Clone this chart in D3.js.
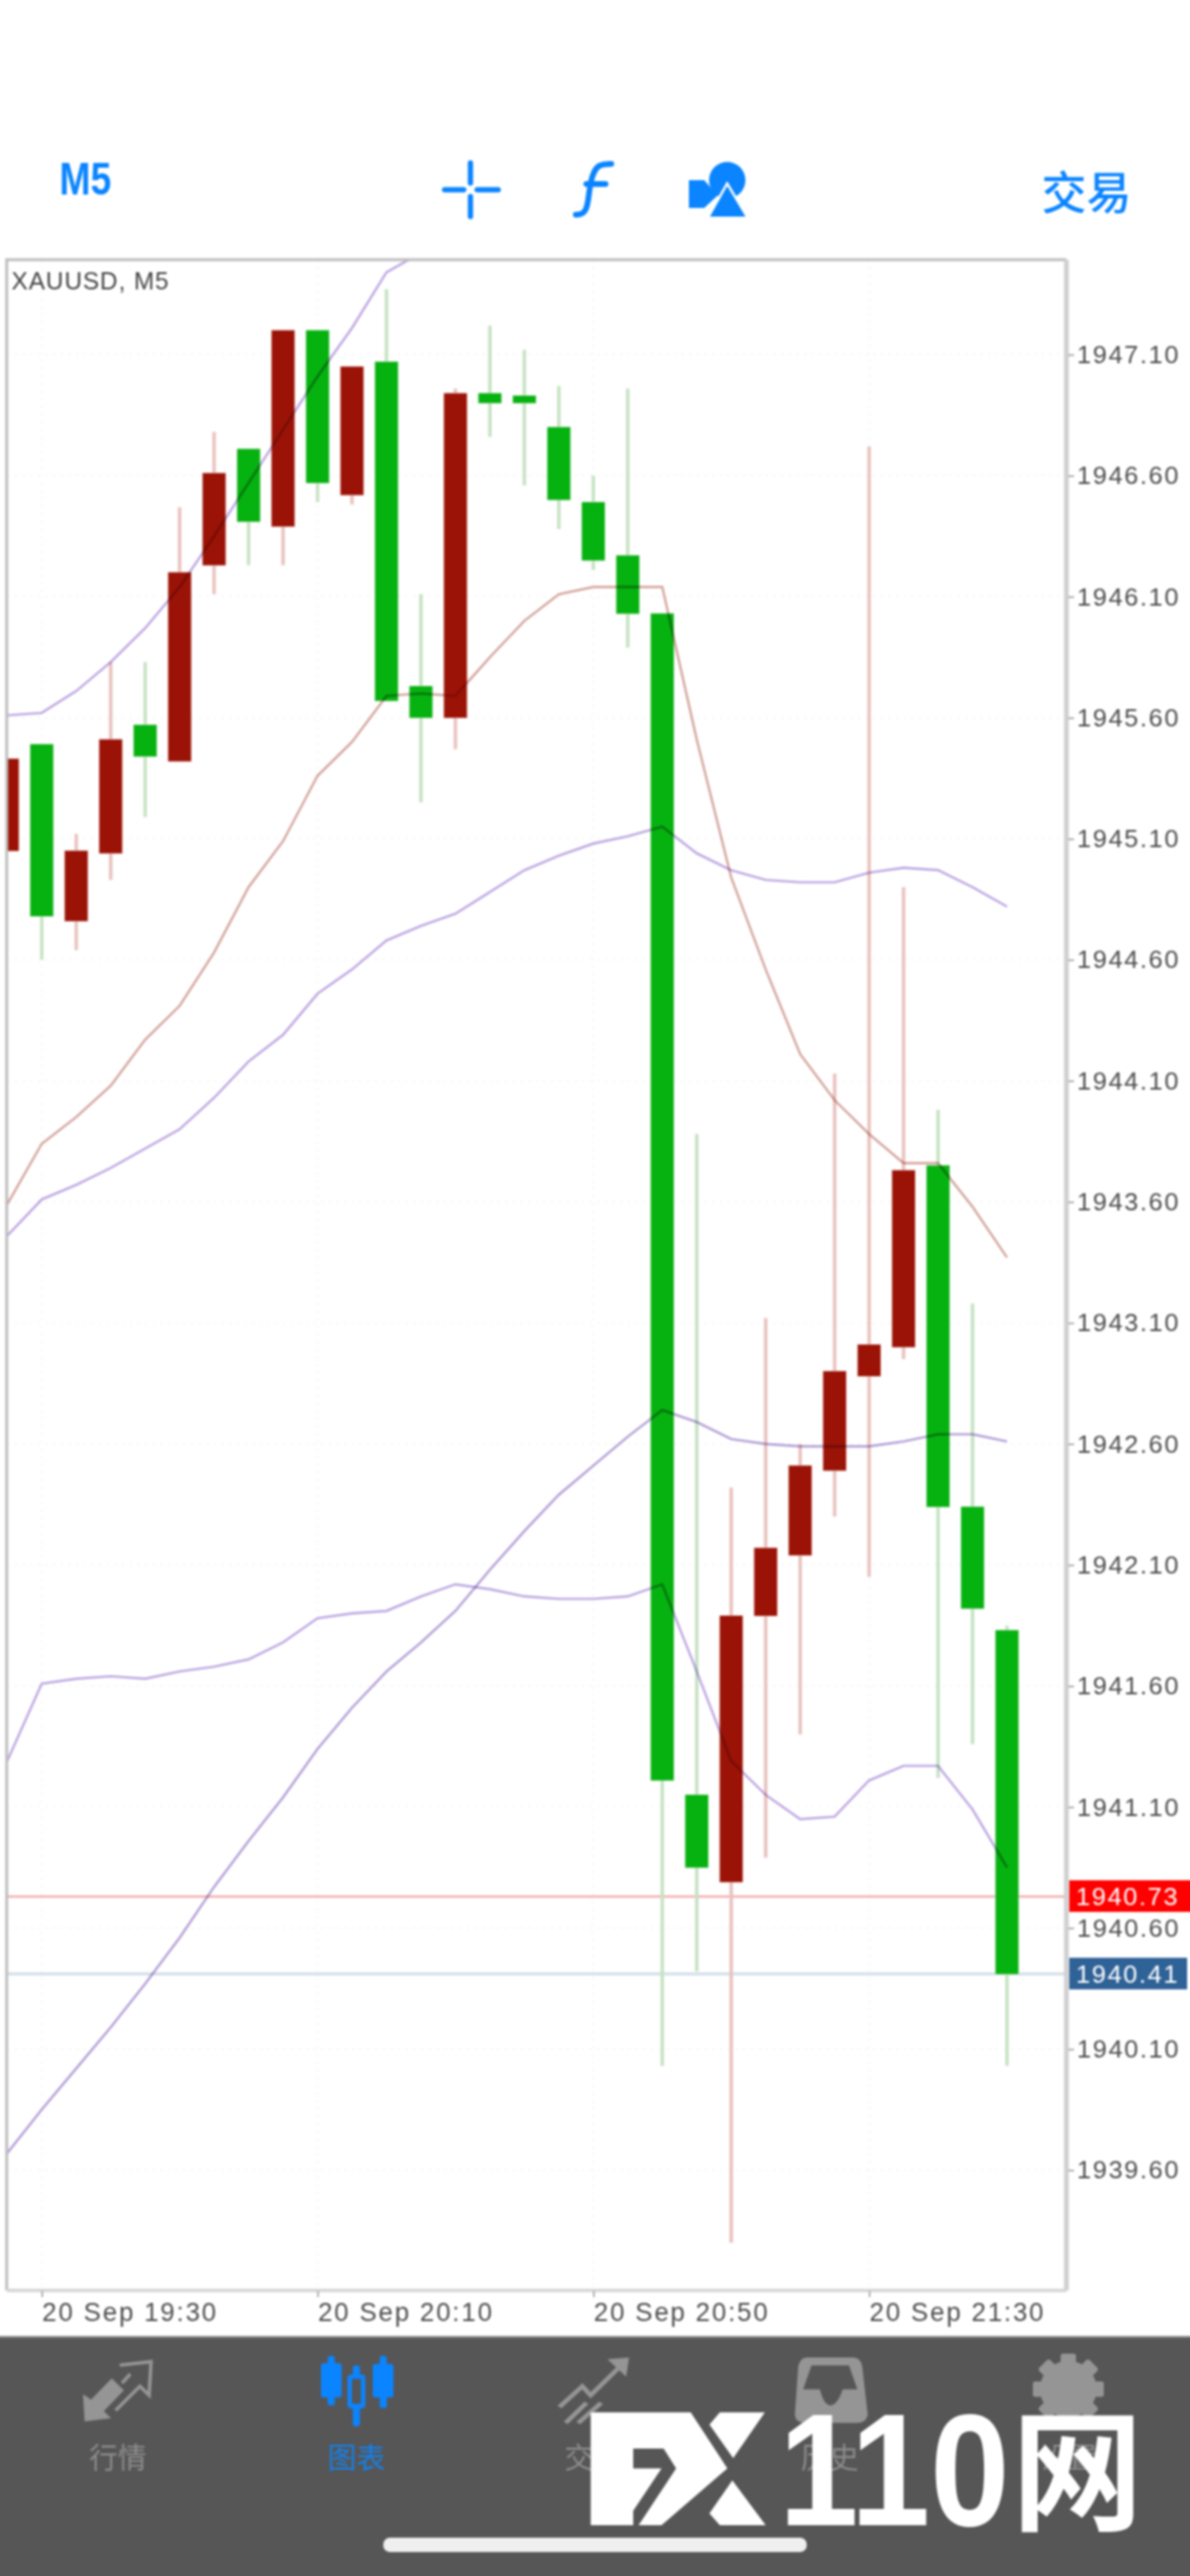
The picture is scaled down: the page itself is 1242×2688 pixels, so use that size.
<!DOCTYPE html>
<html>
<head>
<meta charset="utf-8">
<title>XAUUSD, M5</title>
<script src="https://cdn.jsdelivr.net/npm/d3@7/dist/d3.min.js"></script>
<style>
  html, body { margin: 0; padding: 0; background: #fff; overflow: hidden; }
  svg { display: block; }
  text { font-family: "Liberation Sans", Arial, sans-serif; }
  .cjk { font-family: "Noto Sans CJK SC", sans-serif; }
</style>
</head>
<body>
<div id="wrapper"></div>
<script>
// 5 minute bars, 20 Sep
const times = ["19:25","19:30","19:35","19:40","19:45","19:50","19:55","20:00","20:05","20:10",
  "20:15","20:20","20:25","20:30","20:35","20:40","20:45","20:50","20:55","21:00",
  "21:05","21:10","21:15","21:20","21:25","21:30","21:35","21:40","21:45","21:50"]
const opens = [1945.05,1945.49,1944.76,1945.04,1945.57,1945.42,1946.23,1946.71,1946.39,1947.20,
  1946.52,1947.07,1945.73,1945.60,1946.94,1946.93,1946.80,1946.49,1946.27,1946.03,
  1941.15,1940.79,1941.89,1942.14,1942.49,1942.88,1943.00,1943.75,1942.34,1941.83]
const closes = [1945.43,1944.78,1945.05,1945.51,1945.44,1946.20,1946.61,1946.41,1947.20,1946.57,
  1947.05,1945.67,1945.60,1946.94,1946.90,1946.90,1946.50,1946.25,1946.03,1941.21,
  1940.85,1941.89,1942.17,1942.51,1942.90,1943.01,1943.73,1942.34,1941.92,1940.41]
const highs = [1945.43,1945.49,1945.12,1945.83,1945.83,1946.47,1946.78,1946.71,1947.20,1947.20,
  1947.05,1947.37,1946.11,1946.96,1947.22,1947.12,1946.97,1946.60,1946.96,1946.03,
  1943.88,1942.42,1943.12,1942.60,1944.13,1946.72,1944.90,1943.98,1943.18,1941.85]
const lows = [1945.05,1944.60,1944.64,1944.93,1945.19,1945.42,1946.11,1946.23,1946.23,1946.49,
  1946.48,1945.67,1945.25,1945.47,1946.76,1946.56,1946.38,1946.21,1945.89,1940.03,
  1940.42,1939.30,1940.89,1941.40,1942.30,1942.05,1942.95,1941.22,1941.36,1940.03]

// indicator lines
const upperOuter = [1945.61,1945.62,1945.71,1945.83,1945.97,1946.14,1946.35,1946.57,1946.79,1947.01,
  1947.21,1947.44,1947.52]
const brownLine = [1943.59,1943.84,1943.95,1944.08,1944.27,1944.41,1944.63,1944.90,1945.09,1945.36,
  1945.50,1945.69,1945.70,1945.69,1945.85,1946.00,1946.11,1946.14,1946.14,1946.14,
  1945.51,1944.94,1944.56,1944.21,1944.02,1943.88,1943.76,1943.76,1943.58,1943.37]
const upperInner = [1943.46,1943.61,1943.67,1943.74,1943.82,1943.90,1944.03,1944.18,1944.29,1944.46,
  1944.56,1944.68,1944.74,1944.79,1944.88,1944.97,1945.03,1945.08,1945.11,1945.15,
  1945.04,1944.97,1944.93,1944.92,1944.92,1944.96,1944.98,1944.97,1944.90,1944.82]
const lowerOuter = [1941.29,1941.61,1941.63,1941.64,1941.63,1941.66,1941.68,1941.71,1941.78,1941.88,
  1941.90,1941.91,1941.97,1942.02,1942.00,1941.97,1941.96,1941.96,1941.97,1942.02,
  1941.66,1941.29,1941.15,1941.05,1941.06,1941.21,1941.27,1941.27,1941.09,1940.85]
const lowerInner = [1939.67,1939.85,1940.02,1940.19,1940.37,1940.56,1940.77,1940.96,1941.14,1941.34,
  1941.51,1941.66,1941.78,1941.91,1942.08,1942.24,1942.39,1942.51,1942.63,1942.74,
  1942.69,1942.62,1942.60,1942.59,1942.59,1942.59,1942.61,1942.64,1942.64,1942.61]

const priceTicks = [1947.10,1946.60,1946.10,1945.60,1945.10,1944.60,1944.10,1943.60,1943.10,1942.60,
  1942.10,1941.60,1941.10,1940.60,1940.10,1939.60]
const timeTicks = ["19:30","20:10","20:50","21:30"]
const bidPrice = 1940.41
const askPrice = 1940.73
const tabLabels = ["行情","图表","交易","历史","设置"]

const dimensions = {width: 1242, height: 2688, left: 7, right: 1113, top: 271, bottom: 2390}
const blue = "#0a84ff"
const grey = "#959595"

// the blur sits on a group so the tab bar can run past the page edge
const wrapper = d3.select("#wrapper")
  .append("svg")
    .attr("width", dimensions.width)
    .attr("height", dimensions.height)
  .append("g")
    .style("filter", "blur(1px)")

const x = d3.scalePoint()
  .domain(times)
  .range([7.6, 1051])

const y = d3.scaleLinear()
  .domain([1939.103, 1947.492])
  .range([dimensions.bottom, dimensions.top])

wrapper.append("clipPath")
  .attr("id", "plotClip")
  .append("rect")
    .attr("x", dimensions.left)
    .attr("y", dimensions.top)
    .attr("width", dimensions.right - dimensions.left)
    .attr("height", dimensions.bottom - dimensions.top)

const bounds = wrapper.append("g")
  .attr("id", "bounds")
  .attr("clip-path", "url(#plotClip)")

// very faint grid
bounds.selectAll(".gridY")
  .data(priceTicks)
  .join("line")
    .attr("x1", dimensions.left)
    .attr("x2", dimensions.right)
    .attr("y1", d => y(d))
    .attr("y2", d => y(d))
    .attr("stroke", "#f6f6f6")
    .attr("stroke-width", 1.5)
    .attr("stroke-dasharray", "3 5")

bounds.selectAll(".gridX")
  .data(timeTicks)
  .join("line")
    .attr("x1", d => x(d))
    .attr("x2", d => x(d))
    .attr("y1", dimensions.top)
    .attr("y2", dimensions.bottom)
    .attr("stroke", "#f6f6f6")
    .attr("stroke-width", 1.5)
    .attr("stroke-dasharray", "3 5")

// price lines
bounds.append("line")
  .attr("x1", dimensions.left).attr("x2", dimensions.right)
  .attr("y1", y(askPrice)).attr("y2", y(askPrice))
  .attr("stroke", "#f4b0ae").attr("stroke-width", 2.4)

bounds.append("line")
  .attr("x1", dimensions.left).attr("x2", dimensions.right)
  .attr("y1", y(bidPrice)).attr("y2", y(bidPrice))
  .attr("stroke", "#d3dde9").attr("stroke-width", 3)

// candles
const bars = bounds.selectAll(".bar")
  .data(times)
  .join("g")
    .attr("class", "bar")

const isDown = i => closes[i] < opens[i]
const bodyWidth = x.step() * 0.66

bars.append("line")
  .attr("x1", d => x(d))
  .attr("x2", d => x(d))
  .attr("y1", (d, i) => y(highs[i]))
  .attr("y2", (d, i) => y(lows[i]))
  .attr("stroke", (d, i) => isDown(i) ? "#c6e2c3" : "#e8c2be")
  .attr("stroke-width", 3.6)

bars.append("rect")
  .attr("x", d => x(d) - bodyWidth / 2)
  .attr("width", bodyWidth)
  .attr("y", (d, i) => y(Math.max(opens[i], closes[i])))
  .attr("height", (d, i) => Math.abs(y(opens[i]) - y(closes[i])))
  .attr("fill", (d, i) => isDown(i) ? "#05b20f" : "#9b1206")
  .attr("stroke", (d, i) => isDown(i) ? "#c6e2c3" : "#e8c2be")
  .attr("stroke-width", 1.2)
  .attr("paint-order", "stroke")

// indicators
const line = d3.line()
  .x((d, i) => x(times[i]))
  .y(d => y(d))

const indicators = [
  [upperOuter, "#bda6e2"],
  [brownLine, "#d3a49c"],
  [upperInner, "#bda6e2"],
  [lowerOuter, "#bda6e2"],
  [lowerInner, "#b39fd6"]
]

bounds.selectAll(".indicator")
  .data(indicators)
  .join("path")
    .attr("class", "indicator")
    .attr("d", d => line(d[0]))
    .attr("fill", "none")
    .attr("stroke", d => d[1])
    .attr("stroke-width", 2.4)
    .style("mix-blend-mode", "multiply")

// frame
wrapper.append("path")
  .attr("d", `M${dimensions.left},${dimensions.bottom}V${dimensions.top}H${dimensions.right}`)
  .attr("fill", "none")
  .attr("stroke", "#bdbdbd")
  .attr("stroke-width", 3)

wrapper.append("line")
  .attr("x1", dimensions.right).attr("x2", dimensions.right)
  .attr("y1", dimensions.top).attr("y2", dimensions.bottom)
  .attr("stroke", "#d0d0d0").attr("stroke-width", 5)

wrapper.append("line")
  .attr("x1", dimensions.left).attr("x2", dimensions.right)
  .attr("y1", dimensions.bottom).attr("y2", dimensions.bottom)
  .attr("stroke", "#d4d4d4").attr("stroke-width", 3.5)

wrapper.append("text")
  .attr("x", 12)
  .attr("y", 302)
  .attr("font-size", 25.5)
  .attr("letter-spacing", 0.9)
  .attr("fill", "#444")
  .text("XAUUSD, M5")

// axes
const yAxis = wrapper.append("g")
  .attr("transform", `translate(${dimensions.right + 2},0)`)
  .call(d3.axisRight(y)
    .tickValues(priceTicks)
    .tickFormat(d3.format(".2f"))
    .tickSize(6)
    .tickPadding(3))

yAxis.select(".domain").remove()
yAxis.selectAll("line").attr("stroke", "#999").attr("stroke-width", 1.5)
yAxis.selectAll("text")
  .attr("font-family", "Liberation Sans")
  .attr("font-size", 26.5)
  .attr("letter-spacing", 1.7)
  .attr("fill", "#4c4c4c")

const xAxis = wrapper.append("g")
  .attr("transform", `translate(0,${dimensions.bottom + 1})`)
  .call(d3.axisBottom(x)
    .tickValues(timeTicks)
    .tickFormat(d => "20 Sep " + d)
    .tickSize(6)
    .tickPadding(6))

xAxis.select(".domain").remove()
xAxis.selectAll("line").attr("stroke", "#999").attr("stroke-width", 1.5)
xAxis.selectAll("text")
  .attr("text-anchor", "start")
  .attr("font-family", "Liberation Sans")
  .attr("font-size", 27)
  .attr("letter-spacing", 1.9)
  .attr("fill", "#4c4c4c")

// ask and bid labels
const priceLabels = [[askPrice, "#ff0000", 136], [bidPrice, "#2f6297", 123]]

const labels = wrapper.selectAll(".priceLabel")
  .data(priceLabels)
  .join("g")
    .attr("class", "priceLabel")

labels.append("rect")
  .attr("x", dimensions.right + 3)
  .attr("y", d => y(d[0]) - 17)
  .attr("width", d => d[2])
  .attr("height", 33)
  .attr("fill", d => d[1])

labels.append("text")
  .attr("x", dimensions.right + 10)
  .attr("y", d => y(d[0]) + 9)
  .attr("font-size", 26.5)
  .attr("letter-spacing", 1.7)
  .attr("fill", "#fff")
  .text(d => d3.format(".2f")(d[0]))

// top toolbar
wrapper.append("text")
  .attr("transform", "translate(62,203) scale(1,1.25)")
  .attr("font-size", 39)
  .attr("font-weight", 700)
  .attr("fill", blue)
  .text("M5")

wrapper.append("text")
  .attr("class", "cjk")
  .attr("x", 1087)
  .attr("y", 218)
  .attr("font-size", 47)
  .attr("font-weight", 500)
  .attr("fill", blue)
  .text("交易")

const crosshair = wrapper.append("g")
  .attr("fill", "none").attr("stroke", blue).attr("stroke-width", 5.5).attr("stroke-linecap", "round")
crosshair.append("path").attr("d", "M464,198H484M498,198H520M491,170V191M491,205V226")

wrapper.append("path")
  .attr("d", "M601,224C617,225 612,205 618,185C622,172 627,171 638,171M612,192H632")
  .attr("fill", "none").attr("stroke", blue).attr("stroke-width", 6).attr("stroke-linecap", "round")

const shapes = wrapper.append("g").attr("fill", blue)
shapes.append("path").attr("d", "M719,188H735L749,204L735,217H719Z")
shapes.append("circle").attr("cx", 759).attr("cy", 188).attr("r", 19)
shapes.append("path").attr("d", "M759,194L778,226H741Z").attr("stroke", "#fff").attr("stroke-width", 5).attr("paint-order", "stroke")

// tab bar
wrapper.append("rect")
  .attr("x", -10)
  .attr("y", 2438)
  .attr("width", dimensions.width + 20)
  .attr("height", dimensions.height - 2438 + 10)
  .attr("fill", "#565656")

wrapper.append("line")
  .attr("x1", -10).attr("x2", dimensions.width + 10)
  .attr("y1", 2438.5).attr("y2", 2438.5)
  .attr("stroke", "#8a8a8a").attr("stroke-width", 2)

const tabX = [123, 372, 619, 866, 1115]
wrapper.selectAll(".tabLabel")
  .data(tabLabels)
  .join("text")
    .attr("class", "tabLabel cjk")
    .attr("x", (d, i) => tabX[i])
    .attr("y", 2575)
    .attr("text-anchor", "middle")
    .attr("font-size", 30)
    .attr("fill", (d, i) => i === 1 ? "#1480ea" : "#8c8c8c")
    .text(d => d)

// quotes icon
const quotesIcon = wrapper.append("g").attr("transform", "translate(40,2430) scale(0.3333)")
quotesIcon.append("path")
  .attr("d", "M145,290L140,205L165,222L230,155L268,193L205,258L228,280Z")
  .attr("fill", grey)
quotesIcon.append("path")
  .attr("d", "M255,114L353,103L347,208L318,180L242,256M288,142L262,170")
  .attr("fill", "none").attr("stroke", grey).attr("stroke-width", 11)

// chart icon
const chartIcon = wrapper.append("g").attr("transform", "translate(40,2430) scale(0.3333)").attr("fill", blue)
chartIcon.append("rect").attr("x", 885).attr("y", 108).attr("width", 65).attr("height", 107).attr("rx", 8)
chartIcon.append("rect").attr("x", 906).attr("y", 85).attr("width", 22).attr("height", 155).attr("rx", 8)
chartIcon.append("rect").attr("x", 1047).attr("y", 110).attr("width", 65).attr("height", 105).attr("rx", 8)
chartIcon.append("rect").attr("x", 1069).attr("y", 85).attr("width", 22).attr("height", 163).attr("rx", 8)
chartIcon.append("rect").attr("x", 985).attr("y", 115).attr("width", 22).attr("height", 190).attr("rx", 8)
chartIcon.append("rect").attr("x", 975).attr("y", 150).attr("width", 42).attr("height", 92).attr("rx", 4)
  .attr("fill", "#565656").attr("stroke", blue).attr("stroke-width", 14)

// trade, history and settings icons sit under the watermark
const tradeIcon = wrapper.append("g").attr("transform", "translate(560,2430) scale(0.4348,0.3333)")
  .attr("fill", "none").attr("stroke", grey).attr("stroke-width", 12)
tradeIcon.append("path").attr("d", "M55,245L110,180L130,208L215,100")
tradeIcon.append("path").attr("d", "M170,95L222,90L215,150").attr("fill", grey).attr("stroke", "none")
tradeIcon.append("path").attr("d", "M70,295L120,232M100,295L155,232")

const historyIcon = wrapper.append("g").attr("transform", "translate(560,2430) scale(0.4348,0.3333)")
historyIcon.append("path")
  .attr("d", "M650,90H760Q778,90 782,120L795,270Q790,295 770,295H645Q622,295 620,270L628,120Q632,90 650,90ZM660,115L640,190H680Q690,240 705,240Q722,240 735,190H770L750,115Z")
  .attr("fill", grey).attr("fill-rule", "evenodd")

const gear = wrapper.append("g").attr("transform", "translate(1115,2493)")
gear.selectAll("rect")
  .data(d3.range(8))
  .join("rect")
    .attr("x", -8).attr("y", -37).attr("width", 16).attr("height", 74).attr("rx", 3)
    .attr("fill", grey)
    .attr("transform", d => `rotate(${d * 45})`)
gear.append("circle").attr("r", 21).attr("fill", "none").attr("stroke", grey).attr("stroke-width", 17)

// home indicator
wrapper.append("rect")
  .attr("x", 400).attr("y", 2648)
  .attr("width", 442).attr("height", 15).attr("rx", 7)
  .attr("fill", "#efefef")

// watermark
const mark = wrapper.append("g").attr("fill", "#fff")
const logo = mark.append("g").attr("transform", "translate(560,2430) scale(0.4348,0.3333)")
logo.append("path").attr("d", "M130,262H370L458,437L300,615H245L335,437L305,375H232V437H300L232,570V615H130Z")
logo.append("path").attr("d", "M415,300L440,262H548L472,405Z")
logo.append("path").attr("d", "M470,475L550,615H440L415,578Z")

mark.append("text")
  .attr("transform", "translate(813,2635) scale(1.13,1.27)")
  .attr("font-size", 132)
  .attr("font-weight", 700)
  .text("110")

mark.append("text")
  .attr("class", "cjk")
  .attr("x", 1056)
  .attr("y", 2630)
  .attr("font-size", 137)
  .attr("font-weight", 700)
  .text("网")
</script>
</body>
</html>
